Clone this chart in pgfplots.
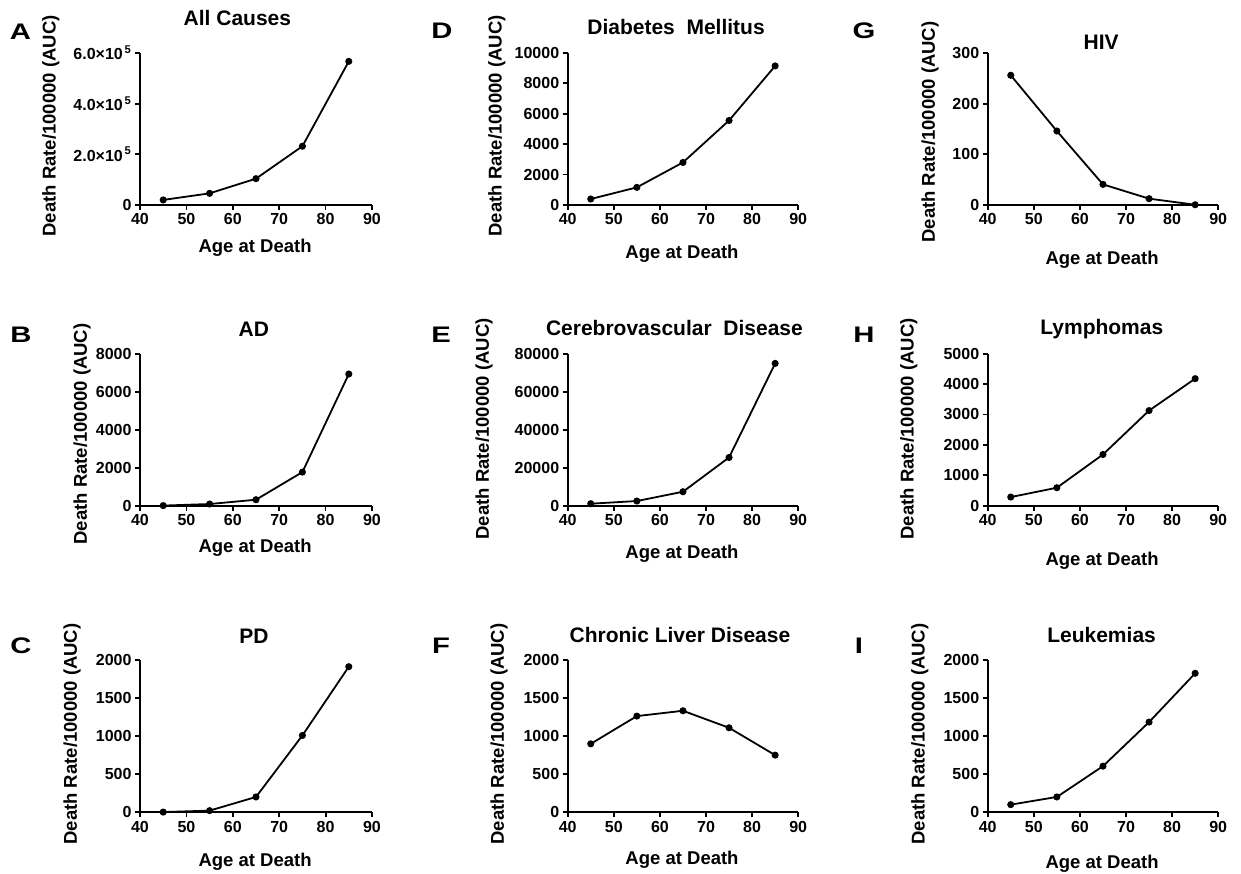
\documentclass[border=0pt]{standalone}
\usepackage{fontspec}
\setmainfont{Liberation Sans}
\newfontfamily\letterfont[FakeStretch=1.3]{Liberation Sans}
\usepackage{pgfplots}
\pgfplotsset{compat=1.18}
\pgfplotsset{
  gp/.style={
    scale only axis, height=152pt,
    axis lines=left, axis line style={-, line width=1.8pt, black},
    xmin=40, xmax=90, ymin=0, xtick={40,50,...,90},
    tick align=outside, major tick length=5pt,
    tick style={black, line width=1.8pt},
    minor tick num=0,
    clip=false,
    scaled y ticks=false,
    every axis title shift=0pt,
    /pgf/number format/assume math mode=true,
    /pgf/number format/1000 sep={},
    tick label style={font=\fontsize{16}{16}\selectfont\bfseries},
    label style={font=\fontsize{18.5}{18.5}\selectfont\bfseries},
    title style={font=\fontsize{21}{21}\selectfont\bfseries, anchor=base},
    xlabel={Age at Death}, ylabel={Death Rate/100000 (AUC)},
  },
  gpline/.style={black, line width=1.8pt, mark=*, mark size=2.6pt, mark options={solid, fill=black}},
}
\newcommand{\plab}[3]{\node[anchor=base, inner sep=0pt, font=\fontsize{22.5}{22.5}\letterfont\bfseries] at (#1pt,#2pt) {#3};}
\begin{document}
\begin{tikzpicture}
\useasboundingbox (0,0) rectangle (1241pt,873pt);
% ---------- Column 1 ----------
\begin{axis}[gp, width=232pt, at={(140pt,668pt)}, anchor=south west,
  ymax=600000, ytick={0,200000,400000,600000},
  yticklabels={0,{2.0×10\textsuperscript{\,5}},{4.0×10\textsuperscript{\,5}},{6.0×10\textsuperscript{\,5}}},
  title={All Causes}, title style={at={(axis description cs:0.42,1.178)}},
  xlabel style={at={(axis description cs:0.496,-0.283)}, anchor=center},
  ylabel style={at={(axis description cs:-0.384,0.52)}, anchor=center}]
\addplot[gpline] coordinates {(45,20000) (55,46000) (65,104000) (75,232000) (85,567000)};
\end{axis}
\begin{axis}[gp, width=232pt, at={(140pt,367.3pt)}, anchor=south west,
  ymax=8000, ytick={0,2000,...,8000},
  title={AD}, title style={at={(axis description cs:0.491,1.112)}},
  xlabel style={at={(axis description cs:0.496,-0.278)}, anchor=center},
  ylabel style={at={(axis description cs:-0.25,0.472)}, anchor=center}]
\addplot[gpline] coordinates {(45,5) (55,88) (65,315) (75,1768) (85,6930)};
\end{axis}
\begin{axis}[gp, width=232pt, at={(140pt,60.7pt)}, anchor=south west,
  ymax=2000, ytick={0,500,...,2000},
  title={PD}, title style={at={(axis description cs:0.491,1.112)}},
  xlabel style={at={(axis description cs:0.496,-0.327)}, anchor=center},
  ylabel style={at={(axis description cs:-0.293,0.515)}, anchor=center}]
\addplot[gpline] coordinates {(45,3) (55,22) (65,202) (75,1011) (85,1916)};
\end{axis}
% ---------- Column 2 ----------
\begin{axis}[gp, width=230.5pt, at={(567.7pt,668pt)}, anchor=south west,
  ymax=10000, ytick={0,2000,...,10000},
  title={Diabetes\ \ Mellitus}, title style={at={(axis description cs:0.47,1.123)}},
  xlabel style={at={(axis description cs:0.496,-0.322)}, anchor=center},
  ylabel style={at={(axis description cs:-0.307,0.52)}, anchor=center}]
\addplot[gpline] coordinates {(45,394) (55,1160) (65,2800) (75,5560) (85,9150)};
\end{axis}
\begin{axis}[gp, width=230.5pt, at={(567.7pt,367.3pt)}, anchor=south west,
  ymax=80000, ytick={0,20000,...,80000},
  title={Cerebrovascular\ \ Disease}, title style={at={(axis description cs:0.463,1.121)}},
  xlabel style={at={(axis description cs:0.496,-0.318)}, anchor=center},
  ylabel style={at={(axis description cs:-0.363,0.505)}, anchor=center}]
\addplot[gpline] coordinates {(45,1050) (55,2450) (65,7350) (75,25380) (85,74900)};
\end{axis}
\begin{axis}[gp, width=230.5pt, at={(567.7pt,60.7pt)}, anchor=south west,
  ymax=2000, ytick={0,500,...,2000},
  title={Chronic Liver Disease}, title style={at={(axis description cs:0.487,1.116)}},
  xlabel style={at={(axis description cs:0.496,-0.314)}, anchor=center},
  ylabel style={at={(axis description cs:-0.298,0.515)}, anchor=center}]
\addplot[gpline] coordinates {(45,901) (55,1266) (65,1336) (75,1112) (85,752)};
\end{axis}
% ---------- Column 3 ----------
\begin{axis}[gp, width=230.5pt, at={(987.7pt,668pt)}, anchor=south west,
  ymax=300, ytick={0,100,...,300},
  title={HIV}, title style={at={(axis description cs:0.492,1.02)}},
  xlabel style={at={(axis description cs:0.496,-0.362)}, anchor=center},
  ylabel style={at={(axis description cs:-0.25,0.48)}, anchor=center}]
\addplot[gpline] coordinates {(45,256) (55,146) (65,40.7) (75,12.5) (85,0.5)};
\end{axis}
\begin{axis}[gp, width=230.5pt, at={(987.7pt,367.3pt)}, anchor=south west,
  ymax=5000, ytick={0,1000,...,5000},
  title={Lymphomas}, title style={at={(axis description cs:0.495,1.124)}},
  xlabel style={at={(axis description cs:0.496,-0.364)}, anchor=center},
  ylabel style={at={(axis description cs:-0.342,0.505)}, anchor=center}]
\addplot[gpline] coordinates {(45,284) (55,591) (65,1685) (75,3129) (85,4179)};
\end{axis}
\begin{axis}[gp, width=230.5pt, at={(987.7pt,60.7pt)}, anchor=south west,
  ymax=2000, ytick={0,500,...,2000},
  title={Leukemias}, title style={at={(axis description cs:0.494,1.116)}},
  xlabel style={at={(axis description cs:0.496,-0.339)}, anchor=center},
  ylabel style={at={(axis description cs:-0.294,0.515)}, anchor=center}]
\addplot[gpline] coordinates {(45,101) (55,202) (65,607) (75,1187) (85,1829)};
\end{axis}
% ---------- Panel letters ----------
\plab{20.4}{833.7}{A}
\plab{21}{530}{B}
\plab{21}{220}{C}
\plab{442}{834}{D}
\plab{441}{530}{E}
\plab{441}{220}{F}
\plab{864}{834}{G}
\plab{864}{530}{H}
\plab{859}{220}{I}
\end{tikzpicture}
\end{document}
